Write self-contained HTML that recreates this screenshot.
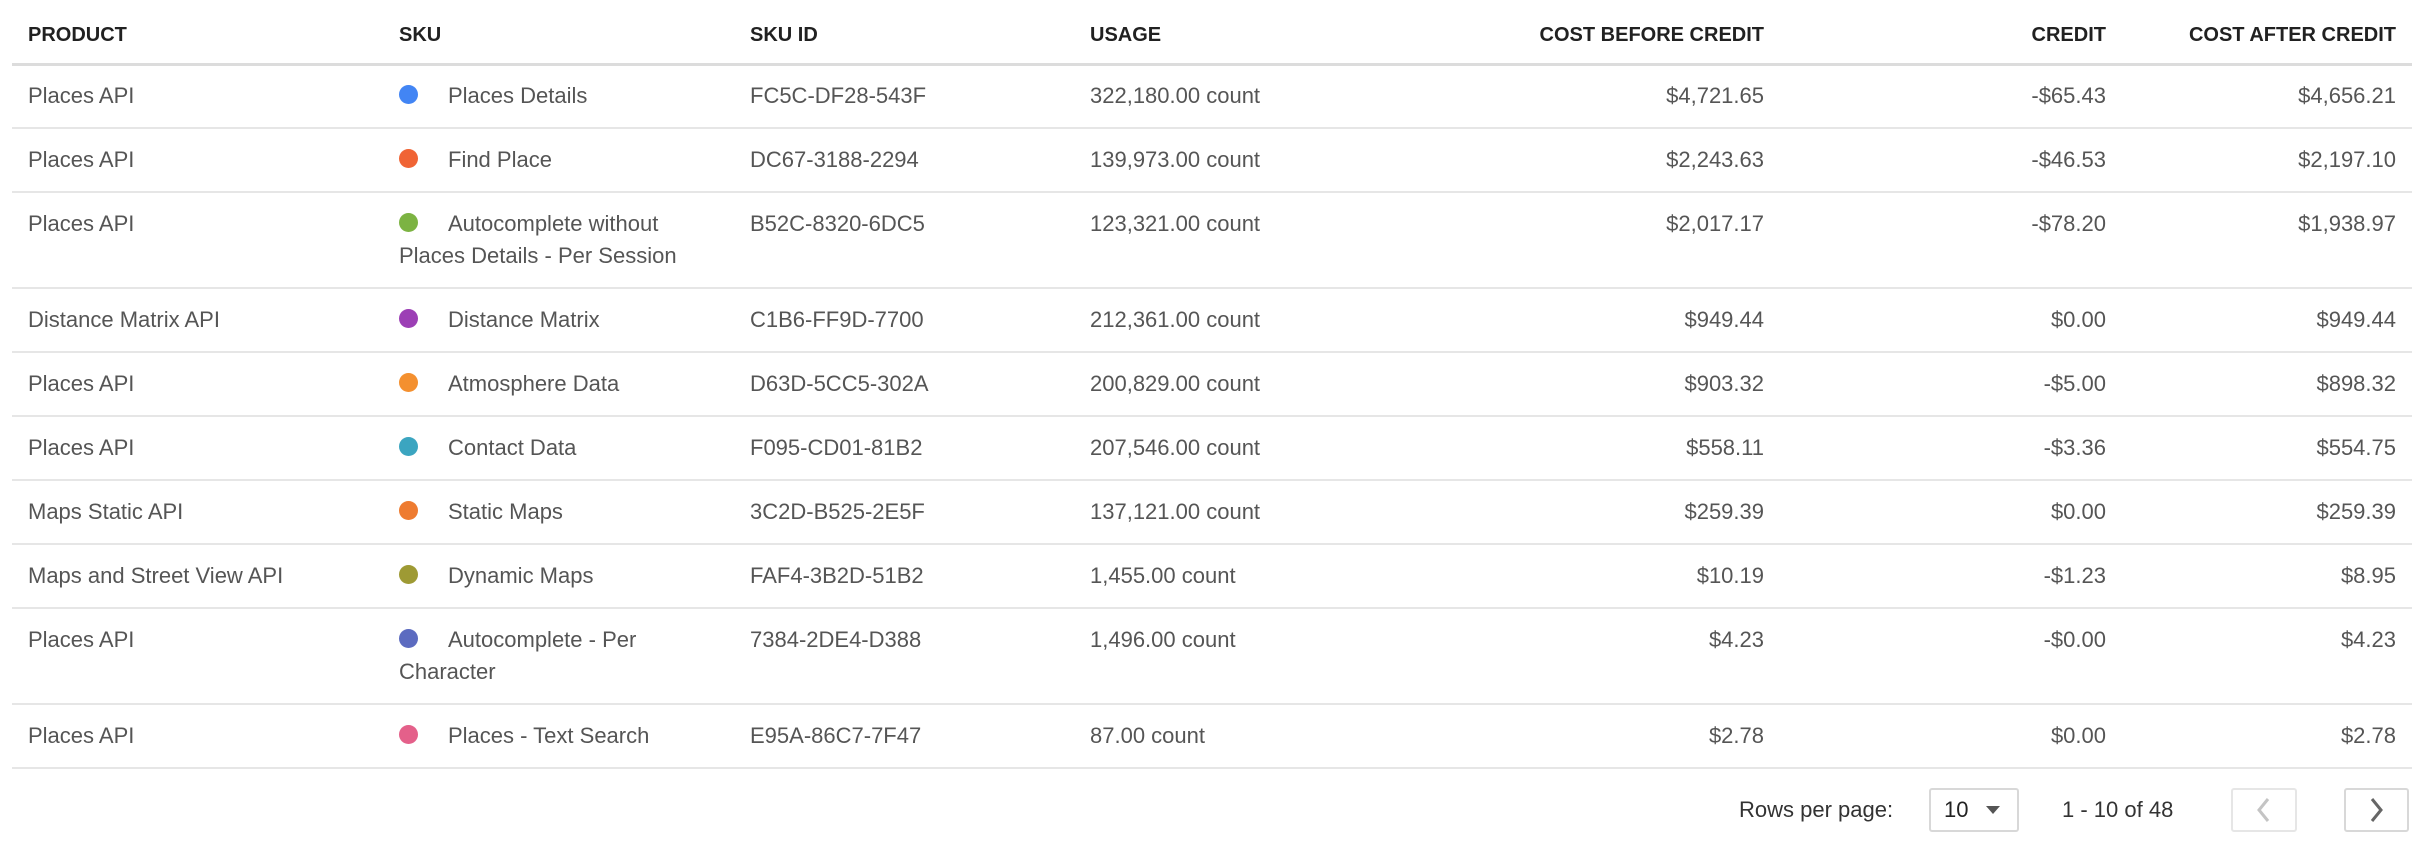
<!DOCTYPE html>
<html><head><meta charset="utf-8"><style>
body{margin:0;width:2424px;height:850px;background:#fff;position:relative;overflow:hidden;font-family:"Liberation Sans",Arial,sans-serif;}
.t{position:absolute;white-space:nowrap;line-height:32px;}
.h{font-weight:bold;font-size:20px;color:#212121;top:19px;}
.b{font-size:22px;color:#555;}
.r{text-align:right;}
.ln{position:absolute;left:12px;width:2400px;height:2px;background:#e6e6e6;}
.dot{position:absolute;width:19px;height:19px;border-radius:50%;left:399px;}
.box{position:absolute;border:2px solid #d8d8d8;border-radius:3px;box-sizing:border-box;}
</style></head><body>
<div class="t h" style="left:28px">PRODUCT</div>
<div class="t h" style="left:399px">SKU</div>
<div class="t h" style="left:750px">SKU ID</div>
<div class="t h" style="left:1090px">USAGE</div>
<div class="t h r" style="right:660px">COST BEFORE CREDIT</div>
<div class="t h r" style="right:318px">CREDIT</div>
<div class="t h r" style="right:28px">COST AFTER CREDIT</div>
<div class="ln" style="top:63px;height:3px;background:#dcdcdc"></div>

<div id="rows"></div>
<script>
var rows=[
["Places API","#4285f4","Places Details","","FC5C-DF28-543F","322,180.00 count","$4,721.65","-$65.43","$4,656.21",64],
["Places API","#f06435","Find Place","","DC67-3188-2294","139,973.00 count","$2,243.63","-$46.53","$2,197.10",64],
["Places API","#7cb342","Autocomplete without","Places Details - Per Session","B52C-8320-6DC5","123,321.00 count","$2,017.17","-$78.20","$1,938.97",96],
["Distance Matrix API","#9c3fb5","Distance Matrix","","C1B6-FF9D-7700","212,361.00 count","$949.44","$0.00","$949.44",64],
["Places API","#f4902f","Atmosphere Data","","D63D-5CC5-302A","200,829.00 count","$903.32","-$5.00","$898.32",64],
["Places API","#3ba5c0","Contact Data","","F095-CD01-81B2","207,546.00 count","$558.11","-$3.36","$554.75",64],
["Maps Static API","#ee7b30","Static Maps","","3C2D-B525-2E5F","137,121.00 count","$259.39","$0.00","$259.39",64],
["Maps and Street View API","#9e9a34","Dynamic Maps","","FAF4-3B2D-51B2","1,455.00 count","$10.19","-$1.23","$8.95",64],
["Places API","#5c6bc0","Autocomplete - Per","Character","7384-2DE4-D388","1,496.00 count","$4.23","-$0.00","$4.23",96],
["Places API","#e4608a","Places - Text Search","","E95A-86C7-7F47","87.00 count","$2.78","$0.00","$2.78",64]];
var y=64,h="";
rows.forEach(function(r){
 var ty=y+16;
 h+='<div class="t b" style="left:28px;top:'+ty+'px">'+r[0]+'</div>';
 h+='<div class="dot" style="background:'+r[1]+';top:'+(ty+5)+'px"></div>';
 h+='<div class="t b" style="left:448px;top:'+ty+'px">'+r[2]+'</div>';
 if(r[3])h+='<div class="t b" style="left:399px;top:'+(ty+32)+'px">'+r[3]+'</div>';
 h+='<div class="t b" style="left:750px;top:'+ty+'px">'+r[4]+'</div>';
 h+='<div class="t b" style="left:1090px;top:'+ty+'px">'+r[5]+'</div>';
 h+='<div class="t b r" style="right:660px;top:'+ty+'px">'+r[6]+'</div>';
 h+='<div class="t b r" style="right:318px;top:'+ty+'px">'+r[7]+'</div>';
 h+='<div class="t b r" style="right:28px;top:'+ty+'px">'+r[8]+'</div>';
 y+=r[9];
 h+='<div class="ln" style="top:'+(y-1)+'px"></div>';
});
document.getElementById('rows').innerHTML=h;
</script>

<div class="t b" style="left:1739px;top:794px;color:#333">Rows per page:</div>
<div class="box" style="left:1929px;top:788px;width:90px;height:44px"></div>
<div class="t b" style="left:1944px;top:794px;color:#222">10</div>
<div style="position:absolute;left:1986px;top:806px;width:0;height:0;border-left:7px solid transparent;border-right:7px solid transparent;border-top:8px solid #555"></div>
<div class="t b" style="left:2062px;top:794px;color:#333">1 - 10 of 48</div>
<div class="box" style="left:2231px;top:788px;width:66px;height:44px;border-color:#e6e6e6"></div>
<svg style="position:absolute;left:2231px;top:788px" width="66" height="44"><polyline points="37,11 28,22 37,33" fill="none" stroke="#c4c4c4" stroke-width="3"/></svg>
<div class="box" style="left:2344px;top:788px;width:65px;height:44px"></div>
<svg style="position:absolute;left:2344px;top:788px" width="65" height="44"><polyline points="28,11 37,22 28,33" fill="none" stroke="#666" stroke-width="3"/></svg>
</body></html>
